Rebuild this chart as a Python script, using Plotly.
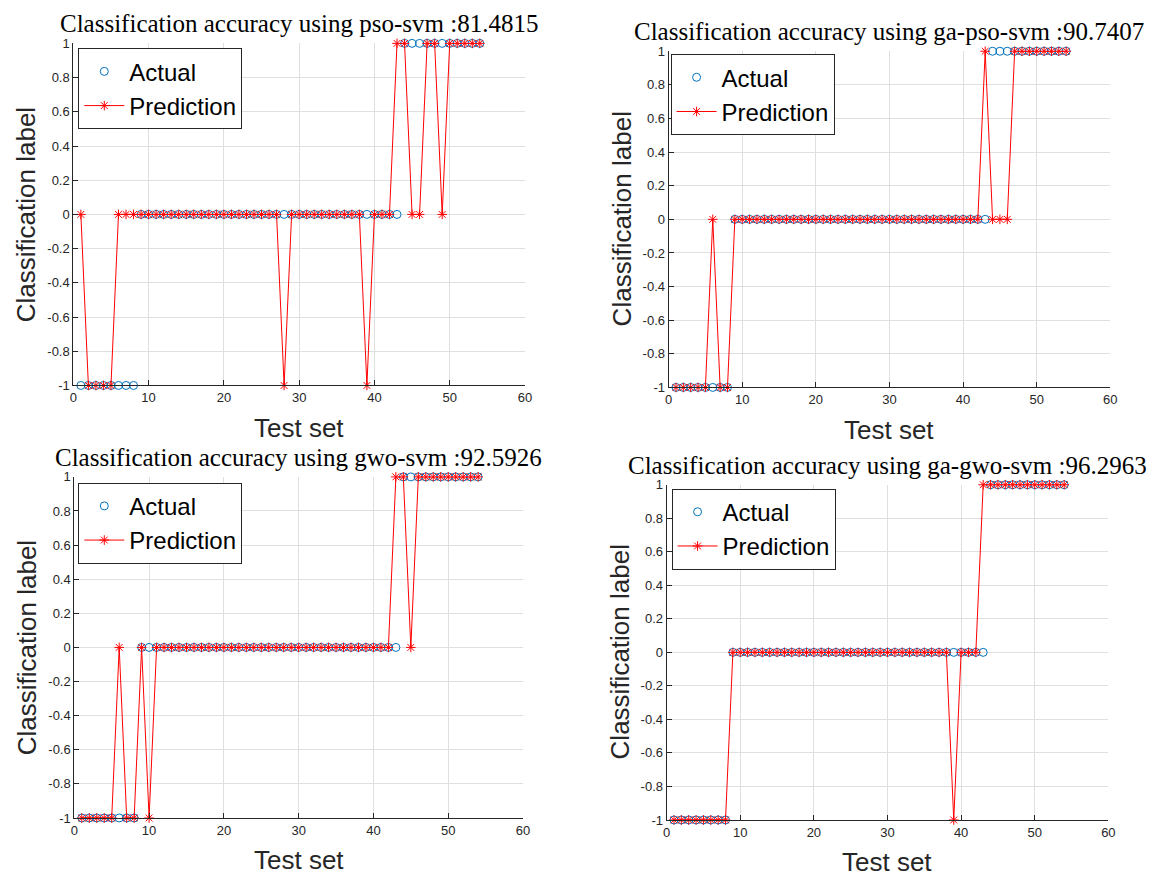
import plotly.graph_objects as go

# Test-set sample indices and true class labels
test_idx = list(range(1, 55))
actual = [-1] * 8 + [0] * 35 + [1] * 11

# Predicted labels of each model
pred_pso_svm = ([0, -1, -1, -1, -1, 0, 0, 0] + [0] * 19 + [-1] + [0] * 10 + [-1]
                + [0, 0, 0, 1, 1, 0, 0, 1, 1, 0, 1, 1, 1, 1, 1])
pred_ga_pso_svm = ([-1, -1, -1, -1, -1, 0, -1, -1] + [0] * 34
                   + [1, 0, 0, 0] + [1] * 8)
pred_gwo_svm = ([-1, -1, -1, -1, -1, 0, -1, -1, 0, -1] + [0] * 32
                + [1, 1, 0] + [1] * 9)
pred_ga_gwo_svm = [-1] * 8 + [0] * 30 + [-1] + [0, 0, 0] + [1] * 12

model_names = ["pso-svm", "ga-pso-svm", "gwo-svm", "ga-gwo-svm"]
accuracies = ["81.4815", "90.7407", "92.5926", "96.2963"]
predictions = [pred_pso_svm, pred_ga_pso_svm, pred_gwo_svm, pred_ga_gwo_svm]

x_ticks = [0, 10, 20, 30, 40, 50, 60]
y_ticks = [-1, -0.8, -0.6, -0.4, -0.2, 0, 0.2, 0.4, 0.6, 0.8, 1]
y_tick_text = ["-1", "-0.8", "-0.6", "-0.4", "-0.2", "0", "0.2", "0.4", "0.6", "0.8", "1"]

W, H = 1153, 883
# panel boxes in pixels: (left, right, top, bottom)
panels = [
    (70, 526, 37, 385),
    (671, 1117, 45, 387),
    (71, 524, 478, 825),
    (669, 1115, 486, 827),
]
# legend box top-left corner in pixels
legend_pos = [(75, 42), (673, 48), (75, 484), (674, 490)]

BLUE = "#0072BD"
RED = "#FF0000"
AX = "#262626"
GRID = "#DFDFDF"
SANS = "Liberation Sans, Arial, sans-serif"
SERIF = "Liberation Serif, Times New Roman, serif"

fig = go.Figure()
annotations = []
layout = {}

for i, (name, acc, pred) in enumerate(zip(model_names, accuracies, predictions)):
    n = i + 1
    sfx = "" if n == 1 else str(n)
    leg = "legend" if n == 1 else f"legend{n}"
    xa, ya = f"x{sfx}", f"y{sfx}"

    fig.add_trace(go.Scatter(
        x=test_idx, y=actual, mode="markers", name="Actual",
        marker=dict(symbol="circle-open", size=8, color=BLUE, line=dict(width=1, color=BLUE)),
        xaxis=xa, yaxis=ya, legend=leg, cliponaxis=False,
    ))
    fig.add_trace(go.Scatter(
        x=test_idx, y=pred, mode="lines+markers", name="Prediction",
        line=dict(color=RED, width=1),
        marker=dict(symbol="asterisk-open", size=8, color=RED, line=dict(width=1, color=RED)),
        xaxis=xa, yaxis=ya, legend=leg, cliponaxis=False,
    ))

    l, r, t, b = panels[i]
    layout[f"xaxis{sfx}"] = dict(
        domain=[l / W, r / W], anchor=ya, range=[0, 60],
        tickvals=x_ticks, ticks="inside", ticklen=5, tickcolor=AX,
        showline=True, linecolor=AX, linewidth=1, mirror=False,
        showgrid=True, gridcolor=GRID, gridwidth=1, zeroline=False,
        tickfont=dict(family=SANS, size=13, color=AX),
    )
    layout[f"yaxis{sfx}"] = dict(
        domain=[1 - b / H, 1 - t / H], anchor=xa, range=[-1, 1],
        tickvals=y_ticks, ticktext=y_tick_text, ticks="inside", ticklen=5, tickcolor=AX,
        showline=True, linecolor=AX, linewidth=1, mirror=False,
        showgrid=True, gridcolor=GRID, gridwidth=1, zeroline=False,
        tickfont=dict(family=SANS, size=13, color=AX),
    )
    lx, ly = legend_pos[i]
    layout[leg] = dict(
        x=lx / W, y=1 - ly / H, xanchor="left", yanchor="top",
        xref="paper", yref="paper",
        bgcolor="white", bordercolor=AX, borderwidth=1,
        font=dict(family=SANS, size=24, color="black"),
        itemwidth=40, tracegroupgap=0,
    )

    cx = (l + r) / 2
    # panel title
    annotations.append(dict(
        text=f"Classification accuracy using {name} :{acc}",
        x=cx / W, y=1 - (t - 20) / H, xref="paper", yref="paper",
        xanchor="center", yanchor="middle", showarrow=False,
        font=dict(family=SERIF, size=25, color="black"),
    ))
    # x-axis label
    annotations.append(dict(
        text="Test set", x=cx / W, y=1 - (b + 43) / H, xref="paper", yref="paper",
        xanchor="center", yanchor="middle", showarrow=False,
        font=dict(family=SANS, size=26, color=AX),
    ))
    # y-axis label
    annotations.append(dict(
        text="Classification label", x=(l - 47) / W, y=1 - ((t + b) / 2) / H,
        xref="paper", yref="paper", textangle=-90,
        xanchor="center", yanchor="middle", showarrow=False,
        font=dict(family=SANS, size=26, color=AX),
    ))

fig.update_layout(
    width=W, height=H, margin=dict(l=0, r=0, t=0, b=0),
    paper_bgcolor="white", plot_bgcolor="white",
    annotations=annotations, showlegend=True,
    **layout,
)

fig.write_html("out.html")
